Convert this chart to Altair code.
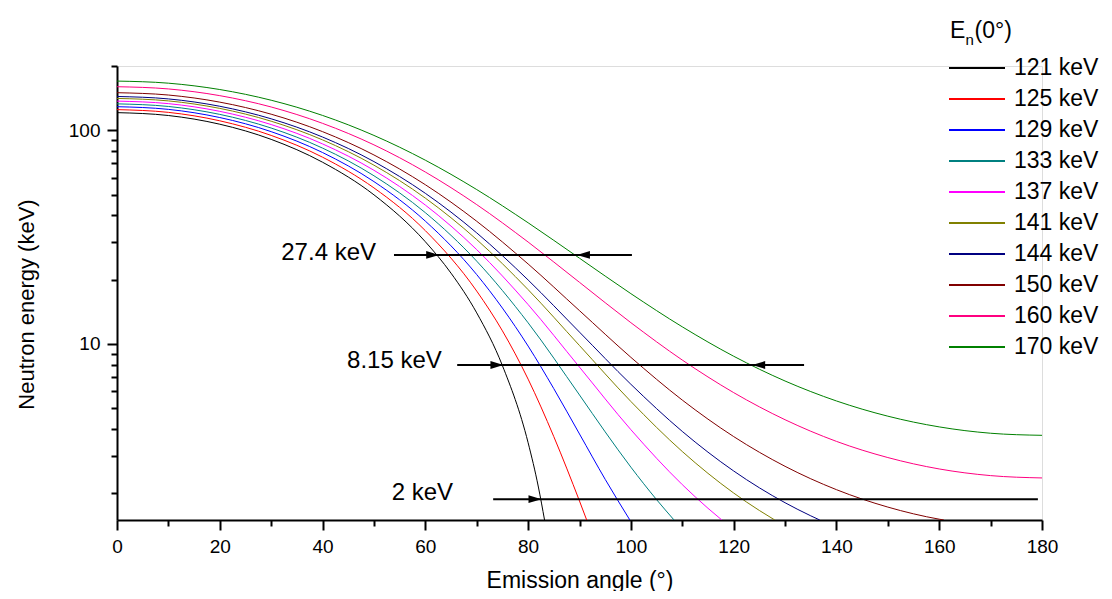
import altair as alt
import pandas as pd

FONT = "Liberation Sans"

SERIES = ["121 keV", "125 keV", "129 keV", "133 keV", "137 keV",
          "141 keV", "144 keV", "150 keV", "160 keV", "170 keV"]
COLORS = ["#000000", "#FF0000", "#0000FF", "#008080", "#FF00FF",
          "#808000", "#000080", "#800000", "#FF0080", "#008000"]

# Emission angle (deg) and neutron energy (keV)
ANGLE_121 = [0, 10, 20, 30, 40, 50, 60, 65, 70, 75, 80, 82, 83.2]
ENERGY_121 = [121, 117.3, 106.8, 90.7, 70.9, 49.9, 30.1, 21.45, 13.98, 7.92, 3.45, 2.14, 1.5]

ANGLE_125 = [0, 10, 20, 30, 40, 50, 60, 70, 75, 80, 85, 90, 91.4]
ENERGY_125 = [125, 121.35, 110.8, 94.66, 74.85, 53.76, 33.92, 17.68, 11.52, 6.845, 3.683, 1.84, 1.5]

ANGLE_129 = [0, 10, 20, 30, 40, 50, 60, 70, 80, 85, 90, 95, 99.8]
ENERGY_129 = [129, 125.33, 114.77, 98.58, 78.71, 57.54, 37.58, 21.12, 9.776, 6.178, 3.79, 2.325, 1.5]

ANGLE_133 = [0, 10, 20, 30, 40, 50, 60, 70, 80, 90, 95, 100, 105, 108.4]
ENERGY_133 = [133, 129.32, 118.73, 102.49, 82.56, 61.28, 41.16, 24.41, 12.56, 5.77, 3.877, 2.651, 1.868, 1.5]

ANGLE_137 = [0, 10, 20, 30, 40, 50, 60, 70, 80, 90, 100, 110, 115, 117.7]
ENERGY_137 = [137, 133.31, 122.69, 106.41, 86.39, 65.0, 44.69, 27.64, 15.29, 7.79, 3.97, 2.196, 1.702, 1.5]

ANGLE_141 = [0, 10, 20, 30, 40, 50, 60, 70, 80, 90, 100, 110, 120, 125, 128.0]
ENERGY_141 = [141, 137.31, 126.66, 110.31, 90.2, 68.68, 48.16, 30.8, 17.96, 9.83, 5.38, 3.138, 2.006, 1.662, 1.5]

ANGLE_144 = [0, 10, 20, 30, 40, 50, 60, 70, 80, 90, 100, 110, 120, 130, 135, 136.75]
ENERGY_144 = [144, 140.28, 129.6, 113.21, 93.02, 71.39, 50.72, 33.11, 19.93, 11.36, 6.476, 3.897, 2.544, 1.807, 1.569, 1.5]

ANGLE_150 = [0, 10, 20, 30, 40, 50, 60, 70, 80, 90, 100, 110, 120, 130, 140, 150, 160, 160.9]
ENERGY_150 = [150, 146.27, 135.5, 118.97, 98.58, 76.67, 55.64, 37.53, 23.68, 14.32, 8.659, 5.463, 3.686, 2.675, 2.08, 1.724, 1.513, 1.5]

ANGLE_160 = [0, 10, 20, 30, 40, 50, 60, 70, 80, 90, 100, 110, 120, 130, 140, 150, 160, 170, 180]
ENERGY_160 = [160, 156.2, 145.3, 128.6, 107.8, 85.5, 63.8, 44.9, 30.0, 19.43, 12.58, 8.41, 5.92, 4.42, 3.50, 2.94, 2.60, 2.42, 2.36]

ANGLE_170 = [0, 10, 20, 30, 40, 50, 60, 70, 80, 90, 100, 110, 120, 130, 140, 150, 160, 170, 180]
ENERGY_170 = [170, 166.2, 155.2, 138.3, 117.4, 94.65, 72.47, 52.8, 36.92, 25.2, 17.2, 12.03, 8.763, 6.709, 5.411, 4.592, 4.091, 3.821, 3.736]

ANGLES = [ANGLE_121, ANGLE_125, ANGLE_129, ANGLE_133, ANGLE_137,
          ANGLE_141, ANGLE_144, ANGLE_150, ANGLE_160, ANGLE_170]
ENERGIES = [ENERGY_121, ENERGY_125, ENERGY_129, ENERGY_133, ENERGY_137,
            ENERGY_141, ENERGY_144, ENERGY_150, ENERGY_160, ENERGY_170]

# Annotation arrows (energy level lines)
ANN_LABELS = ["27.4 keV", "8.15 keV", "2 keV"]
ANN_ENERGY = [26.1, 7.97, 1.878]
ANN_TEXT_ENERGY = [26.7, 8.3, 2.0]
ANN_TEXT_ANGLE = [50.4, 63.2, 65.4]
ANN_START = [53.9, 66.2, 73.2]
ANN_END = [100.2, 133.7, 179.2]
RIGHT_TIP = [62.7, 75.2, 82.6]
LEFT_TIP = [89.5, 123.6]
LEFT_TIP_ENERGY = [26.1, 7.97]

X_MAJOR = [0, 20, 40, 60, 80, 100, 120, 140, 160, 180]
X_MINOR = [10, 30, 50, 70, 90, 110, 130, 150, 170]
Y_MAJOR = [10, 100]
Y_MINOR = [2, 3, 4, 5, 6, 7, 8, 9, 20, 30, 40, 50, 60, 70, 80, 90, 200]

rows = []
for name, angs, ens in zip(SERIES, ANGLES, ENERGIES):
    for i, (a, e) in enumerate(zip(angs, ens)):
        rows.append({"series": name, "angle": a, "energy": e, "order": i})
curves_df = pd.DataFrame(rows)

ann_df = pd.DataFrame({
    "label": ANN_LABELS, "energy": ANN_ENERGY, "text_energy": ANN_TEXT_ENERGY,
    "text_angle": ANN_TEXT_ANGLE, "start": ANN_START, "end": ANN_END,
    "rtip": RIGHT_TIP,
})
left_df = pd.DataFrame({"ltip": LEFT_TIP, "energy": LEFT_TIP_ENERGY})
legend_df = pd.DataFrame({"series": SERIES})

x_scale = alt.Scale(domain=[0, 180], nice=False, zero=False)
y_scale = alt.Scale(type="log", domain=[1.5, 200], nice=False)
color_scale = alt.Scale(domain=SERIES, range=COLORS)
legend_y_scale = alt.Scale(type="point", domain=SERIES, range=[2, 281], padding=0)

main_x_axis = alt.Axis(
    orient="bottom", values=X_MAJOR, format="d", grid=False,
    labelFont=FONT, labelFontSize=19, labelColor="black", labelFlush=False,
    labelPadding=7, labelOverlap=False,
    tickColor="black", tickSize=10, tickWidth=2,
    domainColor="black", domainWidth=2,
    title="Emission angle (°)", titleFont=FONT, titleFontSize=23,
    titleFontWeight="normal", titleColor="black",
    titleY=67, titleBaseline="alphabetic",
)
main_y_axis = alt.Axis(
    orient="left", values=Y_MAJOR, format="d", grid=False,
    labelFont=FONT, labelFontSize=19, labelColor="black", labelPadding=7,
    labelOverlap=False,
    tickColor="black", tickSize=10, tickWidth=2,
    domainColor="black", domainWidth=2,
    title="Neutron energy (keV)", titleFont=FONT, titleFontSize=22,
    titleFontWeight="normal", titleColor="black",
    titleX=-84, titleY=238, titleAngle=270, titleBaseline="alphabetic",
    titleAlign="center",
)
minor_x_axis = alt.Axis(
    orient="bottom", values=X_MINOR, labels=False, domain=False, grid=False,
    tickColor="black", tickSize=6, tickWidth=2, title=None,
)
minor_y_axis = alt.Axis(
    orient="left", values=Y_MINOR, labels=False, domain=False, grid=False,
    tickColor="black", tickSize=6, tickWidth=2, title=None,
)

curves = alt.Chart(curves_df).mark_line(strokeWidth=1, interpolate="monotone", clip=True).encode(
    x=alt.X("angle:Q", scale=x_scale, axis=main_x_axis),
    y=alt.Y("energy:Q", scale=y_scale, axis=main_y_axis),
    color=alt.Color("series:N", scale=color_scale, legend=None),
    order="order:Q",
)

minor = alt.Chart(curves_df).mark_point(opacity=0).encode(
    x=alt.X("angle:Q", scale=x_scale, axis=minor_x_axis),
    y=alt.Y("energy:Q", scale=y_scale, axis=minor_y_axis),
)

rules = alt.Chart(ann_df).mark_rule(color="black", strokeWidth=2).encode(
    x=alt.X("start:Q", scale=x_scale, axis=None),
    x2="end:Q",
    y=alt.Y("energy:Q", scale=y_scale, axis=None),
)

right_heads = alt.Chart(ann_df).mark_point(
    shape="M0,0L-2,-0.6L-2,0.6Z", size=169, filled=True, color="black", opacity=1, strokeWidth=0
).encode(
    x=alt.X("rtip:Q", scale=x_scale, axis=None),
    y=alt.Y("energy:Q", scale=y_scale, axis=None),
)

left_heads = alt.Chart(left_df).mark_point(
    shape="M0,0L2,-0.6L2,0.6Z", size=169, filled=True, color="black", opacity=1, strokeWidth=0
).encode(
    x=alt.X("ltip:Q", scale=x_scale, axis=None),
    y=alt.Y("energy:Q", scale=y_scale, axis=None),
)

ann_text = alt.Chart(ann_df).mark_text(
    align="right", baseline="middle", font=FONT, fontSize=24, color="black"
).encode(
    x=alt.X("text_angle:Q", scale=x_scale, axis=None),
    y=alt.Y("text_energy:Q", scale=y_scale, axis=None),
    text="label:N",
)

# Legend (drawn from the series list through the colour scale)
leg_lines = alt.Chart(legend_df).mark_rule(strokeWidth=2).encode(
    x=alt.value(832), x2=alt.value(888),
    y=alt.Y("series:N", scale=legend_y_scale, axis=None, sort=SERIES),
    color=alt.Color("series:N", scale=color_scale, legend=None),
)
leg_text = alt.Chart(legend_df).mark_text(
    align="left", baseline="middle", font=FONT, fontSize=23, color="black"
).encode(
    x=alt.value(897),
    y=alt.Y("series:N", scale=legend_y_scale, axis=None, sort=SERIES),
    text="series:N",
)

title_df = pd.DataFrame({"E": ["E"], "n": ["n"], "rest": ["(0°)"]})
t_E = alt.Chart(title_df).mark_text(align="left", baseline="alphabetic", font=FONT,
                                    fontSize=23, color="black").encode(
    text="E:N", x=alt.value(833), y=alt.value(-28))
t_n = alt.Chart(title_df).mark_text(align="left", baseline="alphabetic", font=FONT,
                                    fontSize=15, color="black").encode(
    text="n:N", x=alt.value(848.5), y=alt.value(-21))
t_rest = alt.Chart(title_df).mark_text(align="left", baseline="alphabetic", font=FONT,
                                       fontSize=23, color="black").encode(
    text="rest:N", x=alt.value(857.5), y=alt.value(-28))

chart = alt.layer(
    minor, curves, rules, right_heads, left_heads, ann_text,
    leg_lines, leg_text, t_E, t_n, t_rest
).resolve_scale(
    x="independent", y="independent"
).resolve_axis(
    x="independent", y="independent"
).properties(
    width=925, height=454,
    autosize=alt.AutoSizeParams(type="none"),
    padding={"left": 109, "top": 58, "right": 62, "bottom": 71},
).configure_view(stroke=None).configure(background="white")

chart.save("out.html", embed_options={"renderer": "svg", "actions": False})
